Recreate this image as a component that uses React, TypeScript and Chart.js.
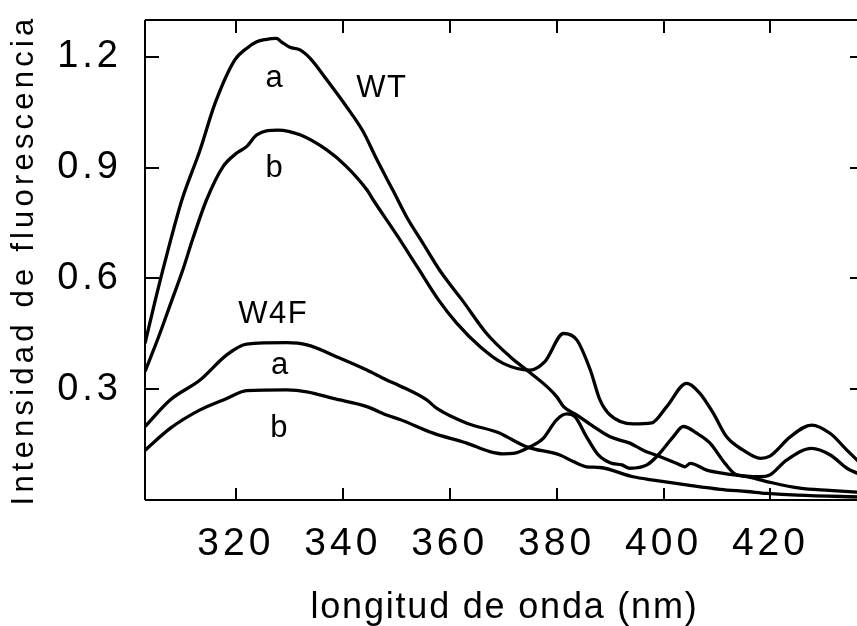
import React, { useEffect, useRef } from "react";
import { Chart, registerables } from "chart.js";

Chart.register(...registerables);

// ---- data ----
const wtAWavelength = [303, 304.9, 307, 309.9, 313.3, 316.1, 319.8, 322.0, 323.9, 325.5, 327.6, 328.5, 330.1, 332.0, 333.9, 337.0, 340.7, 343.8, 346.3, 349.4, 352, 355, 358, 360, 362.3, 366.9, 371.3, 374.4, 378.2, 380.0, 381.3, 383.8, 386.9, 390.0, 393.7, 396.2, 399.4, 402.5, 404.0, 405.0, 408.1, 411.2, 415.6, 419.3, 425.5, 431, 437.5];
const wtAIntensity = [0.424, 0.54, 0.66, 0.8125, 0.948, 1.074, 1.192, 1.223, 1.241, 1.247, 1.25, 1.241, 1.226, 1.219, 1.196, 1.138, 1.065, 0.998, 0.924, 0.838, 0.765, 0.695, 0.625, 0.585, 0.542, 0.451, 0.388, 0.352, 0.307, 0.28, 0.253, 0.23, 0.199, 0.171, 0.154, 0.135, 0.117, 0.099, 0.09, 0.099, 0.081, 0.072, 0.063, 0.05, 0.032, 0.026, 0.02];

const wtBWavelength = [303, 305.5, 308, 310, 312, 314.5, 317.6, 320.1, 322.0, 323.9, 327.9, 332.0, 337.0, 340.7, 344.5, 345.7, 350, 354, 357.9, 361.3, 365.7, 370.0, 375.0, 377.8, 381.3, 383.8, 386.3, 388.1, 390.0, 394.3, 397.8, 400.6, 404.3, 406.8, 409.3, 411.8, 414.9, 418.1, 419.9, 423.7, 427.7, 431.2, 434.3, 437.5];
const wtBIntensity = [0.348, 0.44, 0.54, 0.62, 0.71, 0.8125, 0.903, 0.939, 0.957, 0.989, 1.002, 0.989, 0.948, 0.903, 0.84, 0.8125, 0.72, 0.63, 0.542, 0.479, 0.415, 0.37, 0.352, 0.375, 0.451, 0.433, 0.352, 0.271, 0.23, 0.206, 0.209, 0.253, 0.316, 0.289, 0.235, 0.171, 0.135, 0.113, 0.119, 0.171, 0.203, 0.18, 0.135, 0.09];

const w4fAWavelength = [303, 307.7, 313.3, 318.3, 322.0, 329.5, 333.3, 339.5, 344.5, 348.2, 350.7, 355.7, 357.6, 363.2, 369.4, 370.7, 374.4, 380.6, 383.1, 385.6, 388.1, 394.3, 398.1, 404.3, 410.6, 415.6, 419.3, 425, 437.5];
const w4fAIntensity = [0.199, 0.271, 0.325, 0.393, 0.422, 0.426, 0.42, 0.384, 0.352, 0.325, 0.309, 0.271, 0.248, 0.208, 0.181, 0.171, 0.144, 0.122, 0.104, 0.09, 0.088, 0.063, 0.054, 0.041, 0.029, 0.023, 0.018, 0.013, 0.008];

const w4fBWavelength = [303, 307.7, 313.3, 318.3, 322.0, 329.5, 333.3, 338.2, 344.5, 348.2, 350.7, 356.9, 363.2, 367.5, 370.0, 371.9, 375.0, 377.5, 380.0, 381.9, 383.4, 385.6, 387.8, 390.0, 392.2, 393.7, 396.9, 399.0, 401.8, 403.7, 406.2, 408.7, 411.5, 413.7, 418.1, 419.9, 423.0, 427.7, 431.2, 434.3, 437.5];
const w4fBIntensity = [0.135, 0.194, 0.244, 0.275, 0.296, 0.298, 0.293, 0.275, 0.253, 0.23, 0.218, 0.181, 0.154, 0.131, 0.125, 0.126, 0.144, 0.167, 0.217, 0.233, 0.226, 0.171, 0.122, 0.101, 0.095, 0.086, 0.095, 0.122, 0.171, 0.199, 0.181, 0.154, 0.099, 0.068, 0.063, 0.068, 0.108, 0.14, 0.122, 0.086, 0.065];

const xTickValues = [320, 340, 360, 380, 400, 420];
const yTickValues = [0.3, 0.6, 0.9, 1.2];

const labelTexts = ["a", "WT", "b", "W4F", "a", "b"];
const labelWavelength = [327.3, 347.3, 327.3, 327.0, 328.3, 328.2];
const labelIntensity = [1.118, 1.091, 0.876, 0.479, 0.341, 0.171];

const FONT = "'Liberation Sans', Arial, Helvetica, sans-serif";

const toPoints = (xs: number[], ys: number[]) => xs.map((x, i) => ({ x, y: ys[i] }));

const framePlugin = {
  id: "frameAndLabels",
  beforeDraw(chart: any) {
    const spacing: Record<string, { ticks: string; title: string }> = {
      x: { ticks: "4px", title: "1.8px" },
      y: { ticks: "4px", title: "4.2px" },
    };
    for (const id of Object.keys(spacing)) {
      const s: any = chart.scales[id];
      if (!s || s.__patched) continue;
      s.__patched = true;
      const dl = s.drawLabels.bind(s);
      const dt = s.drawTitle.bind(s);
      s.drawLabels = (area: any) => {
        const c = s.ctx;
        c.save();
        c.letterSpacing = spacing[id].ticks;
        dl(area);
        c.restore();
      };
      s.drawTitle = () => {
        const c = s.ctx;
        c.save();
        c.letterSpacing = spacing[id].title;
        dt();
        c.restore();
      };
    }
  },
  afterDraw(chart: any) {
    const { ctx, chartArea } = chart;
    const { left, right, top, bottom } = chartArea;
    const xs = chart.scales.x;
    const ys = chart.scales.y;
    ctx.save();
    ctx.strokeStyle = "#000";
    ctx.lineWidth = 2;
    ctx.beginPath();
    ctx.moveTo(left, top);
    ctx.lineTo(right, top);
    ctx.moveTo(left, bottom);
    ctx.lineTo(right, bottom);
    ctx.moveTo(left, top);
    ctx.lineTo(left, bottom);
    ctx.moveTo(right, top);
    ctx.lineTo(right, bottom);
    for (const v of xTickValues) {
      const px = Math.round(xs.getPixelForValue(v));
      ctx.moveTo(px, bottom);
      ctx.lineTo(px, bottom - 12);
      ctx.moveTo(px, top);
      ctx.lineTo(px, top + 13);
    }
    for (const v of yTickValues) {
      const py = Math.round(ys.getPixelForValue(v));
      ctx.moveTo(left, py);
      ctx.lineTo(left + 14, py);
      ctx.moveTo(right, py);
      ctx.lineTo(right - 14, py);
    }
    ctx.stroke();

    ctx.fillStyle = "#000";
    ctx.font = `31px ${FONT}`;
    ctx.letterSpacing = "1.5px";
    ctx.textAlign = "center";
    ctx.textBaseline = "alphabetic";
    labelTexts.forEach((t, i) => {
      ctx.fillText(t, xs.getPixelForValue(labelWavelength[i]), ys.getPixelForValue(labelIntensity[i]));
    });
    ctx.restore();
  },
};

export default function App() {
  const ref = useRef<HTMLCanvasElement | null>(null);

  useEffect(() => {
    if (!ref.current) return;
    const lineStyle = {
      borderColor: "#000",
      borderWidth: 3.3,
      pointRadius: 0,
      fill: false,
      cubicInterpolationMode: "monotone" as const,
    };
    const chart = new Chart(ref.current, {
      type: "line",
      data: {
        datasets: [
          { label: "WT a", data: toPoints(wtAWavelength, wtAIntensity), ...lineStyle },
          { label: "WT b", data: toPoints(wtBWavelength, wtBIntensity), ...lineStyle },
          { label: "W4F a", data: toPoints(w4fAWavelength, w4fAIntensity), ...lineStyle },
          { label: "W4F b", data: toPoints(w4fBWavelength, w4fBIntensity), ...lineStyle },
        ],
      },
      options: {
        animation: false,
        responsive: false,
        devicePixelRatio: 1,
        layout: { padding: { top: 20, right: 16, left: 0, bottom: 0 } },
        plugins: { legend: { display: false }, tooltip: { enabled: false } },
        scales: {
          x: {
            type: "linear",
            min: 303,
            max: 437.5,
            afterBuildTicks: (s: any) => {
              s.ticks = xTickValues.map((v) => ({ value: v }));
            },
            afterFit: (s: any) => {
              s.height = 126;
              s.paddingLeft = 0;
              s.paddingRight = 0;
            },
            grid: { display: false, drawTicks: false, tickLength: 0 },
            border: { display: false },
            ticks: {
              color: "#000",
              font: { family: FONT, size: 39 },
              padding: 21,
              maxRotation: 0,
              callback: (v: any) => String(v),
            },
            title: {
              display: true,
              text: "longitud de onda (nm)",
              color: "#000",
              font: { family: FONT, size: 36, lineHeight: 1 },
              padding: { top: 1.5, bottom: 0 },
            },
          },
          y: {
            type: "linear",
            min: 0,
            max: 1.3,
            afterBuildTicks: (s: any) => {
              s.ticks = yTickValues.map((v) => ({ value: v }));
            },
            afterFit: (s: any) => {
              s.width = 145;
              s.paddingTop = 0;
              s.paddingBottom = 0;
            },
            grid: { display: false, drawTicks: false, tickLength: 0 },
            border: { display: false },
            ticks: {
              color: "#000",
              font: { family: FONT, size: 38 },
              padding: 23,
              callback: (v: any) => Number(v).toFixed(1),
            },
            title: {
              display: true,
              text: "Intensidad de fluorescencia",
              color: "#000",
              font: { family: FONT, size: 31, lineHeight: 1 },
              padding: { top: 8.7, bottom: 0 },
            },
          },
        },
      },
      plugins: [framePlugin],
    });
    return () => chart.destroy();
  }, []);

  return (
    <div style={{ position: "fixed", left: 0, top: 0, width: 857, height: 626, overflow: "hidden", background: "#fff" }}>
      <canvas ref={ref} width={880} height={626} style={{ width: 880, height: 626, display: "block" }} />
    </div>
  );
}
